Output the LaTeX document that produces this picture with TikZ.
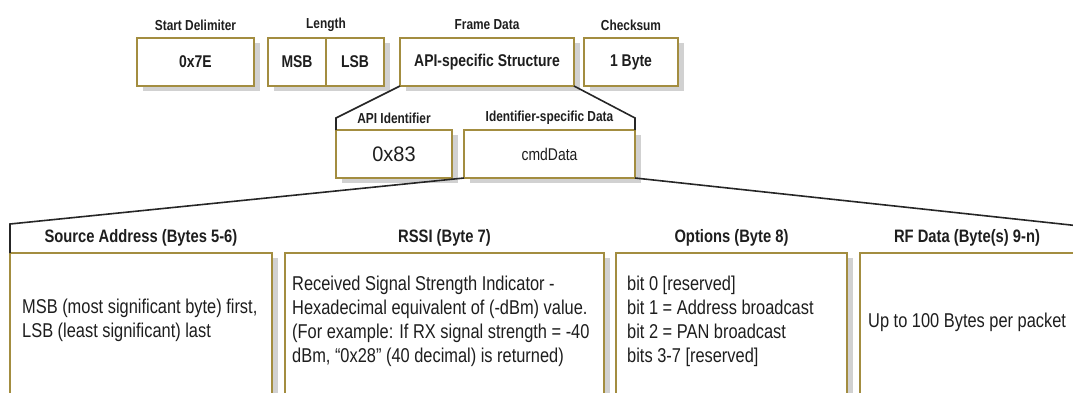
\documentclass[tikz,border=0pt]{standalone}
\usepackage{fontspec}
\setmainfont{Liberation Sans}[FakeStretch=0.82]
\newfontfamily\idfont{Liberation Sans}[FakeStretch=0.95]
\usetikzlibrary{shadows}
\definecolor{gold}{RGB}{163,141,64}
\definecolor{ink}{RGB}{30,30,30}
\begin{document}
\begin{tikzpicture}[x=1pt,y=-1pt,
  field/.style={draw=gold, line width=2.4pt, fill=white, inner sep=0pt, outer sep=0pt,
    text=ink, drop shadow={shadow xshift=6pt, shadow yshift=-5pt, fill=black!18, opacity=1}},
  toptext/.style={font=\fontsize{17}{20}\selectfont\bfseries},
  caption/.style={font=\fontsize{14.5}{16}\selectfont\bfseries, text=ink, inner sep=0pt},
  subcaption/.style={font=\fontsize{18}{20}\selectfont\bfseries, text=ink, inner sep=0pt},
  body/.style={font=\fontsize{20}{24}\selectfont, text=ink, align=left, inner sep=0pt, anchor=west},
  bracket/.style={draw=black!85, line width=1.6pt}]
\useasboundingbox (0,0) rectangle (1073,392);
\clip (0,0) rectangle (1073,392);

% frame fields
\node[field, toptext, minimum width=117pt, minimum height=48pt] (start) at (195.5,62) {0x7E};
\node[field, toptext, minimum width=58pt, minimum height=48pt] (msb) at (297,62) {MSB};
\node[field, toptext, minimum width=58pt, minimum height=48pt] (lsb) at (355,62) {LSB};
\node[field, toptext, minimum width=174pt, minimum height=48pt] (frame) at (487,62) {API-specific Structure};
\node[field, toptext, minimum width=94pt, minimum height=48pt] (chk) at (631,62) {1 Byte};

\node[caption] (startcap) at (195.5,25) {Start Delimiter};
\node[caption] (lencap) at (326,25) {Length};
\node[caption] (framecap) at (487,25) {Frame Data};
\node[caption] (chkcap) at (631,25) {Checksum};

% API-specific structure
\node[field, font=\fontsize{21}{24}\idfont, minimum width=116pt, minimum height=48pt] (api) at (394,154) {0x83};
\node[field, font=\fontsize{17}{20}\selectfont, minimum width=171pt, minimum height=48pt] (cmd) at (549.5,154) {cmdData};

\node[caption] (apicap) at (394,118) {API Identifier};
\node[caption] (cmdcap) at (549.5,118) {Identifier-specific Data};

\coordinate (fl) at (336,118);
\coordinate (fr) at (635,118);
\draw[bracket] (frame.south west) -- (fl) -- (api.north west);
\draw[bracket] (frame.south east) -- (fr) -- (cmd.north east);

% cmdData contents
\node[field, minimum width=262pt, minimum height=160pt, anchor=north west] (src) at (10,253) {};
\node[field, minimum width=319pt, minimum height=160pt, anchor=north west] (rssi) at (285,253) {};
\node[field, minimum width=231pt, minimum height=160pt, anchor=north west] (opt) at (616,253) {};
\node[field, minimum width=220pt, minimum height=160pt, anchor=north west] (rf) at (860,253) {};

\node[subcaption] (srccap) at (141,238) {Source Address (Bytes 5-6)};
\node[subcaption] (rssicap) at (444.5,238) {RSSI (Byte 7)};
\node[subcaption] (optcap) at (731.5,238) {Options (Byte 8)};
\node[subcaption] (rfcap) at (967,238) {RF Data (Byte(s) 9-n)};

\coordinate (bl) at (10,224);
\coordinate (br) at (1080,226);
\draw[bracket] (cmd.south west) -- (bl) -- (src.north west);
\draw[bracket] (cmd.south east) -- (br);

\node[body] (srctext) at (22,320) {MSB (most significant byte) first,\\LSB (least significant) last};
\node[body] (rssitext) at (292,321) {Received Signal Strength Indicator -\\Hexadecimal equivalent of (-dBm) value.\\(For example: If RX signal strength = -40\\dBm, ``0x28'' (40 decimal) is returned)};
\node[body] (opttext) at (627,321) {bit 0 [reserved]\\bit 1 = Address broadcast\\bit 2 = PAN broadcast\\bits 3-7 [reserved]};
\node[body] (rftext) at (868,322) {Up to 100 Bytes per packet};
\end{tikzpicture}
\end{document}
